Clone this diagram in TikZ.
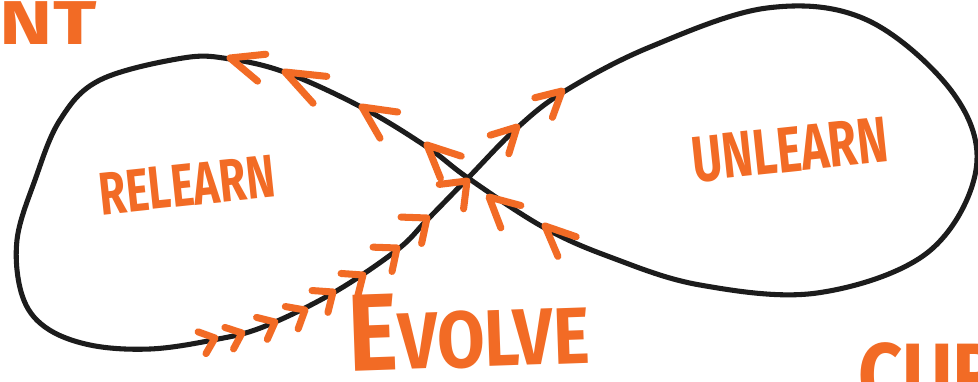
\documentclass[tikz,border=0pt]{standalone}
\usepackage{fontspec}
\setmainfont{Fira Sans}
\newfontfamily\narrowhand[FakeStretch=0.72]{Fira Sans}
\newfontfamily\midhand[FakeStretch=0.86]{Fira Sans}
\newfontfamily\widehand[FakeStretch=1.3]{Fira Sans}
\definecolor{marker}{HTML}{F26B25}
\definecolor{ink}{HTML}{1C1C1C}

\begin{document}
\begin{tikzpicture}[x=0.025cm,y=-0.025cm,
  loopline/.style={draw=ink,line width=3.6pt,line cap=round,line join=round},
  chev/.style={draw=marker,line width=5pt,line cap=round,line join=round},
  word/.style={text=marker,inner sep=0pt}]
  \useasboundingbox (0,0) rectangle (978,381);
  \fill[white] (0,0) rectangle (978,381);
  \clip (0,0) rectangle (978,381);
  % the loop (starts at the crossing, right lobe first)
  \draw[loopline] plot[smooth cycle,tension=0.6] coordinates {
    (468,178) (517,128) (565,91) (650,47) (767,8) (867,20) (953,93) (976,170)
    (927,253) (817,293) (700,285) (610,257) (543,227)
    (468,178) (427,147) (363,108) (287,73) (230,59) (183,58) (100,80) (60,120)
    (35,180) (17,240) (22,295) (45,327) (90,345) (150,349) (213,340) (263,327)
    (333,293) (397,250) (427,220)};
  % chevrons: tip x/y, direction, half opening, arm length
  \foreach \x/\y/\a/\h/\s in {215/338/-20/40/18, 242/333/-22/40/18, 275/322/-26/40/19,
      305/310/-30/40/20, 333/292/-36/40/21, 363/275/-36/40/22, 397/248/-38/40/24,
      427/218/-38/40/26, 467/181/-45/38/28,
      517/127/-45/28/28, 562/91/-42/28/28,
      489/197/-138/27/33, 545/226/-137/24/33,
      230/58/-163/23/36, 285/72/-153/21/42, 362/107/-146/26/36, 427/145/-137/25/36}
    \draw[chev] (\x,\y) ++(\a+180-\h:\s) -- (\x,\y) -- ++(\a+180+\h:\s);
  % words
  \node[word,font=\narrowhand\bfseries\fontsize{43}{43}\selectfont,rotate=6] (relearn) at (187,185) {RELEARN};
  \node[word,font=\narrowhand\bfseries\fontsize{46}{46}\selectfont,rotate=6] (unlearn) at (790,150) {UNLEARN};
  \node[word,font=\midhand\bfseries\fontsize{57}{57}\selectfont,rotate=2,anchor=base] (evolve) at (470,367)
    {{\fontsize{78}{78}\selectfont E}VOLVE};
  \node[word,font=\widehand\bfseries\fontsize{44}{44}\selectfont,anchor=base east] (topword) at (97,45) {NT};
  \node[word,font=\midhand\bfseries\fontsize{64}{64}\selectfont,anchor=north west] (cornerword) at (858,342) {CUR};
\end{tikzpicture}
\end{document}
